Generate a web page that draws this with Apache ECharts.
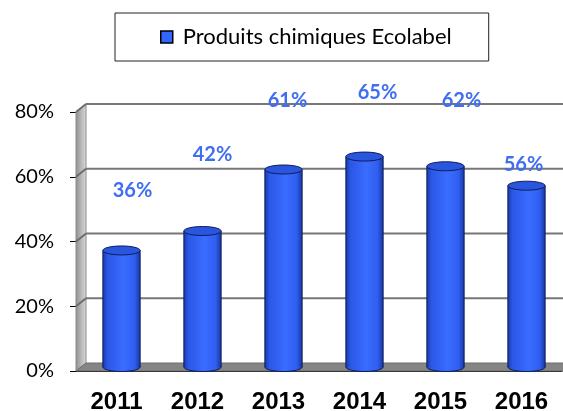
<!DOCTYPE html>
<html>
<head>
<meta charset="utf-8">
<script src="https://cdn.jsdelivr.net/npm/echarts@6/dist/echarts.min.js"></script>
<style>
  html, body { margin: 0; padding: 0; background: #fff; }
  #chart { width: 563px; height: 411px; }
</style>
</head>
<body>
<div id="chart"></div>
<script>
const years = ['2011', '2012', '2013', '2014', '2015', '2016'];
const shares = [36, 42, 61, 65, 62, 56];
const yTicks = [0, 20, 40, 60, 80];
// hand-placed data labels, offset from the top of each cylinder
const labelShift = [[11, -60], [10, -76], [4, -69], [13, -64], [16, -66], [-3, -21]];

const seriesName = 'Produits chimiques Ecolabel';
const DX = 10, DY = -8; // depth of the 3D box

const chart = echarts.init(document.getElementById('chart'));

function wallItem(params, api) {
    const cs = params.coordSys;
    const x0 = cs.x, xEnd = cs.x + cs.width;
    const y = api.coord([0, api.value(1)])[1];
    const children = [];
    if (params.dataIndex === 0) {
        const yTop = api.coord([0, yTicks[yTicks.length - 1]])[1];
        children.push({
            type: 'polygon',
            shape: { points: [[x0, y], [x0 + DX, y + DY], [x0 + DX, yTop + DY], [x0, yTop]] },
            style: {
                fill: new echarts.graphic.LinearGradient(0, 0, 1, 0, [
                    { offset: 0, color: '#8f8f8f' },
                    { offset: 1, color: '#dcdcdc' }
                ]),
                stroke: '#8a8a8a', lineWidth: 1
            }
        });
        children.push({
            type: 'polygon',
            shape: { points: [[x0, y], [x0 + DX, y + DY], [xEnd + DX, y + DY], [xEnd, y]] },
            style: { fill: '#858585', stroke: '#6f6f6f', lineWidth: 1 }
        });
    } else {
        children.push({
            type: 'line',
            shape: { x1: x0, y1: y, x2: x0 + DX, y2: y + DY },
            style: { stroke: '#6e6e6e', lineWidth: 2 }
        });
        children.push({
            type: 'line',
            shape: { x1: x0 + DX, y1: y + DY, x2: xEnd + DX, y2: y + DY },
            style: { stroke: '#777777', lineWidth: 2 }
        });
    }
    return { type: 'group', children: children };
}

function cylinderItem(params, api) {
    const i = api.value(0), v = api.value(1);
    const top = api.coord([i, v]);
    const base = api.coord([i, 0]);
    const cx = top[0] + DX / 2;
    const ty = top[1] + DY / 2;
    const by = base[1] + DY / 2;
    const w = api.size([1, 0])[0] * 0.46;
    const rx = w / 2, ry = 4.5;
    const body = new echarts.graphic.LinearGradient(0, 0, 1, 0, [
        { offset: 0, color: '#1b3aa8' },
        { offset: 0.12, color: '#2a57e6' },
        { offset: 0.55, color: '#3a6cff' },
        { offset: 0.85, color: '#2f5ff0' },
        { offset: 1, color: '#1a37a0' }
    ]);
    const sh = labelShift[params.dataIndex];
    return {
        type: 'group',
        children: [
            { type: 'ellipse', shape: { cx: cx, cy: by, rx: rx, ry: ry },
              style: { fill: body, stroke: '#0d1d5c', lineWidth: 1 } },
            { type: 'rect', shape: { x: cx - rx, y: ty, width: w, height: by - ty },
              style: { fill: body } },
            { type: 'line', shape: { x1: cx - rx, y1: ty, x2: cx - rx, y2: by },
              style: { stroke: '#0d1d5c', lineWidth: 1 } },
            { type: 'line', shape: { x1: cx + rx, y1: ty, x2: cx + rx, y2: by },
              style: { stroke: '#0d1d5c', lineWidth: 1 } },
            { type: 'ellipse', shape: { cx: cx, cy: ty, rx: rx, ry: ry },
              style: { fill: '#2a56de', stroke: '#0d1d5c', lineWidth: 1 } },
            { type: 'text', x: cx + sh[0], y: ty + sh[1],
              style: { text: v + '%', fill: '#3f6ef2', align: 'center', verticalAlign: 'middle',
                       font: 'bold 20px Lato' } }
        ]
    };
}

const option = {
    backgroundColor: '#fff',
    animation: false,
    legend: {
        data: [{ name: seriesName, itemStyle: { color: '#3366ff', borderColor: '#000', borderWidth: 1.5 } }],
        icon: 'rect',
        itemWidth: 12,
        itemHeight: 12,
        left: 115,
        top: 13,
        padding: [13, 37, 13, 45],
        borderColor: '#222',
        borderWidth: 1,
        selectedMode: false,
        textStyle: { fontFamily: 'Lato', fontSize: 22, color: '#000', padding: [0, 0, 0, 5] }
    },
    grid: { left: 76, right: 1, top: 112, bottom: 40, outerBoundsMode: 'none' },
    xAxis: {
        type: 'category',
        data: years,
        axisLine: { lineStyle: { color: '#000', width: 1 } },
        axisTick: { length: 7, lineStyle: { color: '#000' } },
        axisLabel: { margin: 19, color: '#000', fontFamily: 'Liberation Sans', fontWeight: 'bold', fontSize: 24 }
    },
    yAxis: {
        type: 'value',
        min: 0,
        max: 80,
        interval: 20,
        axisLine: { show: true, lineStyle: { color: '#333' } },
        axisTick: { show: true, length: 6, lineStyle: { color: '#000' } },
        splitLine: { show: false },
        axisLabel: { margin: 22, color: '#000', fontFamily: 'Lato', fontSize: 20, formatter: '{value}%' }
    },
    series: [
        {
            type: 'custom',
            name: 'walls',
            silent: true,
            z: 1,
            renderItem: wallItem,
            encode: { x: 0, y: 1 },
            data: yTicks.map(function (v) { return [0, v]; })
        },
        {
            type: 'custom',
            name: seriesName,
            z: 3,
            itemStyle: { color: '#3366ff' },
            renderItem: cylinderItem,
            encode: { x: 0, y: 1 },
            data: shares.map(function (v, i) { return [i, v]; })
        }
    ]
};

chart.setOption(option);
</script>
</body>
</html>
